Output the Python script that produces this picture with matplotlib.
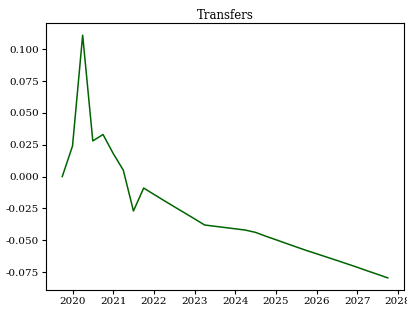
import pandas as pd
import matplotlib
matplotlib.use('Agg')
import matplotlib.pyplot as plt
import matplotlib.dates as mdates

# quarterly values
dates = pd.to_datetime([
    '2019-10-01', '2020-01-01', '2020-04-01', '2020-07-01', '2020-10-01',
    '2021-01-01', '2021-04-01', '2021-07-01', '2021-10-01', '2022-01-01',
    '2022-04-01', '2022-07-01', '2022-10-01', '2023-01-01', '2023-04-01',
    '2023-07-01', '2023-10-01', '2024-01-01', '2024-04-01', '2024-07-01',
    '2024-10-01', '2025-01-01', '2025-04-01', '2025-07-01', '2025-10-01',
    '2026-01-01', '2026-04-01', '2026-07-01', '2026-10-01', '2027-01-01',
    '2027-04-01', '2027-07-01', '2027-10-01',
])
transfers = [
    0.000, 0.024, 0.111, 0.028, 0.033,
    0.018, 0.005, -0.027, -0.009, -0.014,
    -0.0188, -0.0236, -0.0284, -0.0332, -0.038,
    -0.039, -0.040, -0.041, -0.042, -0.0438,
    -0.0468, -0.0496, -0.0524, -0.0552, -0.058,
    -0.0606, -0.0632, -0.0658, -0.0685, -0.0712,
    -0.0740, -0.0767, -0.0795,
]

plt.rcParams['font.family'] = 'DejaVu Serif'
plt.rcParams['font.size'] = 7.5

fig = plt.figure(figsize=(4.07, 3.11), dpi=100)
ax = fig.add_axes([46 / 407, 1 - 290 / 311, 358 / 407, 267 / 311])

ax.plot(dates, transfers, color='darkgreen', linewidth=1.1)
ax.set_title('Transfers', fontsize=8.5, pad=3)

ax.set_yticks([-0.075, -0.050, -0.025, 0.0, 0.025, 0.050, 0.075, 0.100])
ax.yaxis.set_major_formatter(matplotlib.ticker.FormatStrFormatter('%.3f'))
ax.xaxis.set_major_locator(mdates.YearLocator())
ax.xaxis.set_major_formatter(mdates.DateFormatter('%Y'))
ax.tick_params(length=3, width=0.8, pad=2)

fig.savefig('out.png', dpi=100)
